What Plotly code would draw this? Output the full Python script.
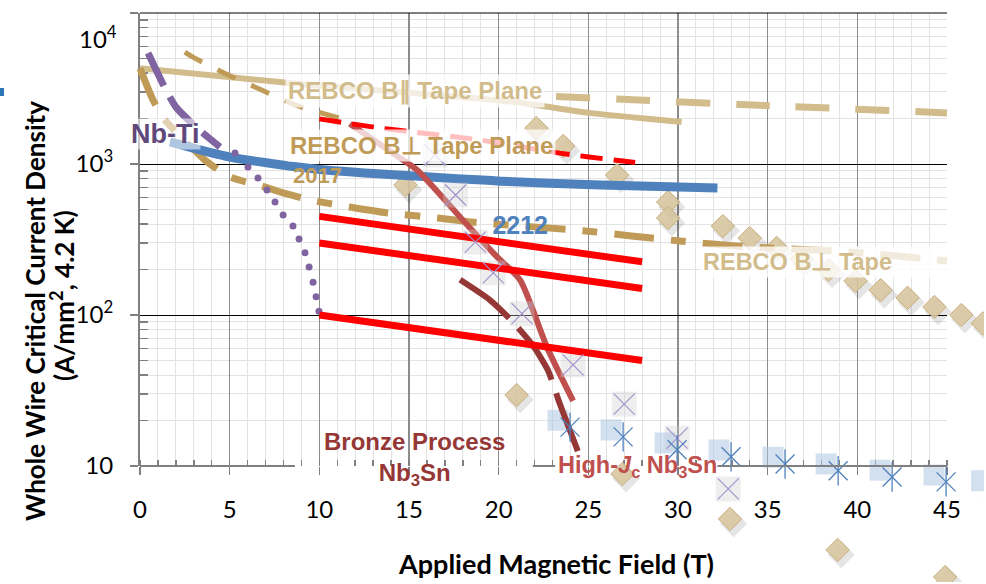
import plotly.graph_objects as go

# ---------------- data: field (T) vs whole-wire Je (A/mm^2) ----------------
rebco_par_solid_x = [0, 8.2, 20.8, 25.0, 30.2]
rebco_par_solid_y = [4300, 3450, 2580, 2180, 1900]

rebco_par_dash_x = [23.2, 33.5, 45]
rebco_par_dash_y = [2800, 2480, 2180]

rebco_perp_upper_x = [2.5, 2.95, 4.8, 6.75, 8.7, 11.2]
rebco_perp_upper_y = [5500, 5100, 3950, 3100, 2450, 2000]

red_dash_x = [10, 13.4, 15.2, 19.0, 23.4, 26.8, 27.9]
red_dash_y = [1990, 1730, 1630, 1440, 1180, 1050, 1015]

rebco_2017_x = [0, 0.73, 1.39, 3.63, 5.02, 6.8, 7.8, 9.48, 11.7, 13.8, 16.6, 18.4,
                24.7, 27.4, 30.1, 33.4, 35.3, 38.6, 40.6, 43.9, 45]
rebco_2017_y = [4300, 2650, 1960, 1060, 820, 715, 653, 578, 519, 474, 439, 413,
                362, 334, 309, 285, 277, 266, 256, 235, 228]

bi2212_x = [1.67, 5.02, 10.04, 20.1, 25.7, 32.2]
bi2212_y = [1400, 1110, 920, 770, 725, 693]

red_solid_x = [10, 28]
red_top_y = [450, 225]
red_mid_y = [300, 150]
red_low_y = [100, 50]

nbti_dash_x = [0.45, 1.39, 2.0, 3.18, 4.46]
nbti_dash_y = [5435, 3190, 2385, 1730, 1296]
nbti_dot_x = [5.3, 6.02, 6.58, 7.08, 7.53, 7.98, 8.53, 8.87, 9.2, 9.43, 9.65, 9.82, 9.98]
nbti_dot_y = [1183, 955, 808, 673, 560, 460, 388, 319, 258, 208, 165, 132, 106]

highjc_x = [11.7, 14.1, 15.45, 18.2, 19.8, 21.2, 22.7, 24.15]
highjc_y = [1850, 1180, 913, 400, 250, 170, 61, 27]

bronze_x = [17.85, 19.5, 20.75, 21.9, 22.75, 23.4, 24.5]
bronze_y = [171, 126, 91, 63, 43, 26, 11.8]

diamond_x = [14.8, 22.1, 23.6, 26.6, 29.45, 29.45, 32.5, 34.0, 35.5, 36.9, 38.4, 39.9,
             41.3, 42.8, 44.3, 45.8, 47.0, 21.0, 26.9, 32.9, 38.9, 44.9]
diamond_y = [726, 1730, 1316, 845, 560, 439, 388, 323, 278, 235, 199, 168,
             146, 130, 113, 100, 88, 29.5, 8.85, 4.46, 2.78, 1.84]

cross_x = [16.45, 17.6, 18.7, 19.7, 21.3, 24.15, 27.0, 29.95, 32.8]
cross_y = [1147, 623, 304, 190, 102, 46.7, 25.7, 15.3, 7.05]

star_x = [23.98, 26.94, 29.95, 32.96, 35.97, 38.93, 41.94, 44.95, 47.6]
star_y = [18.1, 15.6, 12.8, 11.5, 10.3, 9.3, 8.45, 7.85, 7.2]

y_tick_vals = [10, 100, 1000, 10000]
y_tick_text = ["10", "10<sup>2</sup>", "10<sup>3</sup>", ""]
x_tick_vals = [0, 5, 10, 15, 20, 25, 30, 35, 40, 45]

# ---------------- colours ----------------
TAN_LIGHT = "#D2BC8C"
TAN_DARK = "#BF9B57"
BLUE = "#4F81BD"
RED = "#FF0000"
HIGHJC = "#C0504D"
BRONZE = "#953735"
PURPLE = "#8064A2"

# ---------------- geometry ----------------
W, H = 986, 584
# paper region (margins)
PL, PR, PT, PB = 100, 2, 13, 2
PW, PH = W - PL - PR, H - PT - PB
# gridded chart box in pixels
BX0, BX1, BY0, BY1 = 140, 947, 13, 466
X_MIN, X_MAX = 0, 45
Y_MIN, Y_MAX = 1, 4          # log10 range of the chart box

x_per_px = (X_MAX - X_MIN) / (BX1 - BX0)
dec_per_px = (Y_MAX - Y_MIN) / (BY1 - BY0)
# data axes span the whole paper with the same scale, so marks may run past the box
x2_range = [X_MIN - (BX0 - PL) * x_per_px, X_MAX + (W - PR - BX1) * x_per_px]
y2_range = [Y_MIN - (H - PB - BY1) * dec_per_px, Y_MAX + (BY0 - PT) * dec_per_px]


def xp(px):
    return (px - PL) / PW


def yp(py):
    return (H - PB - py) / PH


fig = go.Figure()
# anchor trace for the gridded axes
fig.add_trace(go.Scatter(x=[20], y=[100], mode="markers", marker=dict(opacity=0),
                         hoverinfo="skip", showlegend=False))


def add_line(x, y, color, width, dash="solid"):
    fig.add_trace(go.Scatter(x=x, y=y, xaxis="x2", yaxis="y2", mode="lines", hoverinfo="skip",
                             showlegend=False,
                             line=dict(color=color, width=width, dash=dash, shape="spline",
                                       smoothing=0.6)))


def add_markers(x, y, **marker):
    fig.add_trace(go.Scatter(x=x, y=y, xaxis="x2", yaxis="y2", mode="markers", hoverinfo="skip",
                             showlegend=False, cliponaxis=True, marker=marker))


# diamonds with soft drop shadow
add_markers([v + 0.2 for v in diamond_x], [v * 0.93 for v in diamond_y],
            symbol="diamond", size=21, color="rgba(0,0,0,0.10)", line=dict(width=0))
add_markers(diamond_x, diamond_y, symbol="diamond", size=18,
            color="rgba(216,199,160,0.9)", line=dict(color="#C8AE7E", width=1))

# REBCO curves
add_line(rebco_par_solid_x, rebco_par_solid_y, TAN_LIGHT, 6)
add_line(rebco_par_dash_x, rebco_par_dash_y, TAN_LIGHT, 7, "34px,26px")
add_line(rebco_perp_upper_x, rebco_perp_upper_y, TAN_DARK, 5, "20px,17px")
add_line(rebco_2017_x, rebco_2017_y, TAN_DARK, 7, "40px,17px,15px,17px")

# Bi-2212
add_line(bi2212_x, bi2212_y, BLUE, 9)

# Nb-Ti
add_line(nbti_dash_x, nbti_dash_y, PURPLE, 7, "36px,13px")
add_markers(nbti_dot_x, nbti_dot_y, symbol="circle", size=7, color=PURPLE, line=dict(width=0))

# High-Jc Nb3Sn
add_line(highjc_x, highjc_y, HIGHJC, 6)

# marker backdrops
add_markers(cross_x, cross_y, symbol="square", size=25, color="rgba(205,205,205,0.35)",
            line=dict(width=0))
add_markers([v - 0.67 for v in star_x], [v * 1.11 for v in star_y], symbol="square", size=21,
            color="rgba(175,199,228,0.55)", line=dict(width=0))

# bronze-process Nb3Sn
add_line(bronze_x, bronze_y, BRONZE, 6, "62px,14px")

# 2212 label sits under the red lines
fig.add_trace(go.Scatter(x=[21.2], y=[377], xaxis="x2", yaxis="y2", mode="text",
                         text=["<b>2212</b>"], hoverinfo="skip", showlegend=False,
                         textfont=dict(family="Liberation Sans", size=25, color=BLUE)))

# red lines
for yy in (red_top_y, red_mid_y, red_low_y):
    add_line(red_solid_x, yy, RED, 7)
add_line(red_dash_x, red_dash_y, RED, 5, "22px,11px")

# cross and asterisk markers
add_markers(cross_x, cross_y, symbol="x-thin-open", size=21, color="#A393CC",
            line=dict(color="#A393CC", width=1.2))
add_markers(star_x, star_y, symbol="x-thin-open", size=19, color=BLUE, line=dict(color=BLUE, width=1.3))
add_markers(star_x, star_y, symbol="line-ns-open", size=21, color=BLUE, line=dict(color=BLUE, width=1.3))

# ---------------- labels ----------------
LBL = "Liberation Sans"
ann = []


def label(text, px, py, color, size, xanchor="center", bg=None, **kw):
    d = dict(text=text, x=xp(px), y=yp(py), xref="paper", yref="paper", xanchor=xanchor,
             yanchor="middle", showarrow=False, font=dict(family=LBL, size=size, color=color),
             borderpad=2)
    if bg:
        d["bgcolor"] = bg
    d.update(kw)
    ann.append(d)


label("<b>REBCO B\u2225 Tape Plane</b>", 415, 91, TAN_LIGHT, 24, bg="rgba(255,255,255,0.75)")
label("<b>REBCO B\u22a5 Tape Plane</b>", 421, 145, TAN_DARK, 24, bg="rgba(255,255,255,0.75)")
label("<b>2017</b>", 290, 175, TAN_DARK, 22, xanchor="left")
label("<b>REBCO B\u22a5 Tape</b>", 700, 262, TAN_LIGHT, 23.5, xanchor="left",
      bg="rgba(255,255,255,0.8)", width=243, align="left")
label("<b>Nb-Ti</b>", 165, 134, "#5F497A", 27, bg="rgba(255,255,255,0.55)", borderpad=0)
label("<b>Bronze Process<br>Nb<sub>3</sub>Sn</b>", 414, 459, BRONZE, 24)
label("<b>High-<i>J</i><sub>c</sub> Nb<sub>3</sub>Sn</b>", 637, 466, HIGHJC, 23.5)

# 10^4 tick label
ann.append(dict(text="10<sup>4</sup>", x=xp(119), y=yp(37), xref="paper", yref="paper",
                xanchor="right", yanchor="middle", showarrow=False,
                font=dict(family="Lato", size=24, color="black")))

# axis titles
ann.append(dict(text="<b>Whole Wire Critical Current Density</b>", x=xp(35), y=yp(311),
                xref="paper", yref="paper", xanchor="center", yanchor="middle", textangle=-90,
                showarrow=False, font=dict(family="Lato", size=26, color="black")))
ann.append(dict(text="<b>(A/mm<sup>2</sup>, 4.2 K)</b>", x=xp(62), y=yp(296),
                xref="paper", yref="paper", xanchor="center", yanchor="middle", textangle=-90,
                showarrow=False, font=dict(family="Lato", size=26, color="black")))
ann.append(dict(text="<b>Applied Magnetic Field (T)</b>", x=xp(556), y=yp(563),
                xref="paper", yref="paper", xanchor="center", yanchor="middle", showarrow=False,
                font=dict(family="Lato", size=27, color="black")))

# x axis baseline, interrupted where the Nb3Sn labels sit
shapes = []
for x0, x1 in [(0, 8.64), (21.9, 23.15), (32.2, 45)]:
    shapes.append(dict(type="line", xref="x", yref="y domain", x0=x0, x1=x1, y0=0, y1=0,
                       line=dict(color="#808080", width=2), layer="above"))
# top border
shapes.append(dict(type="line", xref="x domain", yref="y domain", x0=0, x1=1, y0=1, y1=1,
                   line=dict(color="black", width=1)))
# small blue mark at the left edge
shapes.append(dict(type="rect", xref="paper", yref="paper", x0=xp(0), x1=xp(4),
                   y0=yp(96), y1=yp(88), fillcolor="#2E75B6", line=dict(width=0)))

minor_y = [m * 10 ** e for e in range(1, 4) for m in range(2, 10)]

fig.update_layout(
    width=W, height=H, margin=dict(l=PL, r=PR, t=PT, b=PB, autoexpand=False),
    paper_bgcolor="white", plot_bgcolor="rgba(0,0,0,0)", showlegend=False,
    annotations=ann, shapes=shapes,
    xaxis=dict(domain=[xp(BX0), xp(BX1)], anchor="y", range=[X_MIN, X_MAX], automargin=False,
               tickmode="array", tickvals=x_tick_vals, showline=False,
               zeroline=False, showgrid=True, gridcolor="#8C8C8C", gridwidth=1.5,
               ticks="outside", ticklen=8, tickcolor="#808080", tickwidth=1.5,
               tickfont=dict(family="Lato", size=24, color="black"), ticklabelstandoff=14,
               minor=dict(tickmode="linear", tick0=0, dtick=1, showgrid=True, gridcolor="#E3E3E3",
                          gridwidth=1, ticks="inside", ticklen=6, tickcolor="#808080")),
    yaxis=dict(domain=[yp(BY1), yp(BY0)], anchor="x", type="log", range=[Y_MIN, Y_MAX],
               automargin=False, tickmode="array", tickvals=y_tick_vals,
               ticktext=y_tick_text, showline=True, linecolor="#808080", linewidth=2,
               zeroline=False, showgrid=True, gridcolor="black", gridwidth=1,
               ticks="outside", ticklen=8, tickcolor="#808080", tickwidth=1.5,
               tickfont=dict(family="Lato", size=24, color="black"), ticklabelstandoff=12,
               minor=dict(tickmode="array", tickvals=minor_y, showgrid=True, gridcolor="#E3E3E3",
                          gridwidth=1, ticks="inside", ticklen=8, tickcolor="#808080")),
    xaxis2=dict(domain=[0, 1], anchor="y2", range=x2_range, visible=False, fixedrange=True,
                automargin=False),
    yaxis2=dict(domain=[0, 1], anchor="x2", type="log", range=y2_range, visible=False,
                fixedrange=True, automargin=False),
)

fig.write_html("out.html", config={"staticPlot": True})
